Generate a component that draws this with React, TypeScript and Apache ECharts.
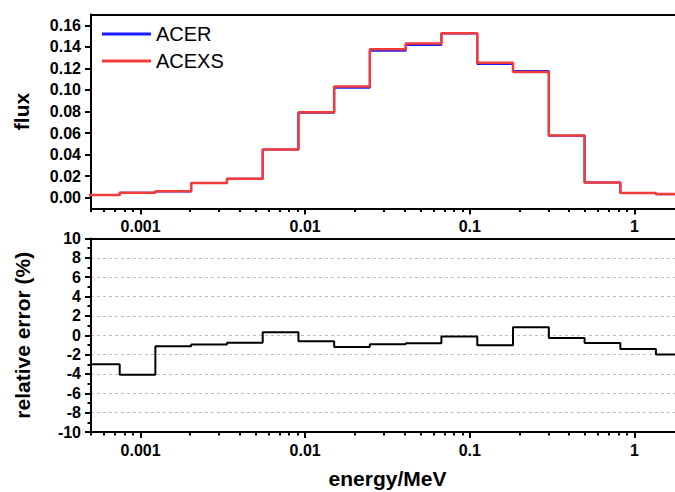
import React, { useEffect, useRef } from 'react';
import * as echarts from 'echarts';

// Group boundaries (MeV) read from the step edges
const energyBounds = [0.000453, 0.000747, 0.00123, 0.00203, 0.00335, 0.00552, 0.0091, 0.015, 0.0247, 0.0408, 0.0672, 0.111, 0.183, 0.302, 0.498, 0.821, 1.35, 2.23];
// Group fluxes
const acexsFlux = [0.0025, 0.0047, 0.0059, 0.0137, 0.0177, 0.0447, 0.0794, 0.1033, 0.1377, 0.143, 0.1526, 0.1253, 0.1166, 0.0577, 0.0142, 0.0044, 0.0034];
const acerFlux = [0.00243, 0.00451, 0.00583, 0.01357, 0.01756, 0.04484, 0.07891, 0.10205, 0.13642, 0.14181, 0.15242, 0.124, 0.11757, 0.05754, 0.01409, 0.00434, 0.00333];
// Relative error (%)
const relError = [-3.0, -4.07, -1.14, -0.96, -0.77, 0.31, -0.62, -1.21, -0.93, -0.83, -0.12, -1.04, 0.83, -0.28, -0.8, -1.42, -2.0];

const xMajorTicks = [0.001, 0.01, 0.1, 1];
const xMinorTicks = [0.0005, 0.0006, 0.0007, 0.0008, 0.0009, 0.002, 0.003, 0.004, 0.005, 0.006, 0.007, 0.008, 0.009, 0.02, 0.03, 0.04, 0.05, 0.06, 0.07, 0.08, 0.09, 0.2, 0.3, 0.4, 0.5, 0.6, 0.7, 0.8, 0.9, 2];
const fluxTicks = [0, 0.02, 0.04, 0.06, 0.08, 0.1, 0.12, 0.14, 0.16];
const fluxMinorTicks = [0.01, 0.03, 0.05, 0.07, 0.09, 0.11, 0.13, 0.15];

const FONT = '"Liberation Sans", Arial, sans-serif';

function steps(vals: number[]) {
  return energyBounds.map((e, i) => [e, vals[Math.min(i, vals.length - 1)]]);
}

export default function App() {
  const ref = useRef<HTMLDivElement>(null);
  useEffect(() => {
    const chart = echarts.init(ref.current as HTMLDivElement, null, { renderer: 'svg' });
    const X_MIN = 0.0005;
    const X_MAX = 2;
    const axisLine = { show: true, onZero: false, lineStyle: { color: '#000', width: 2 } };
    const labelStyle = { color: '#000', fontFamily: FONT, fontWeight: 'bold' as const, fontSize: 16 };
    const nameStyle = { color: '#000', fontFamily: FONT, fontWeight: 'bold' as const, fontSize: 21 };
    const tickStyle = { color: '#000', width: 2 };

    const logAxis = (gridIndex: number, extra: any) => ({
      type: 'log',
      logBase: 10,
      gridIndex,
      min: X_MIN,
      max: X_MAX,
      position: 'bottom',
      axisLine,
      splitLine: { show: false },
      minorTick: { show: false },
      minorSplitLine: { show: false },
      ...extra,
    });
    const majorX = (g: number, extra: any = {}) =>
      logAxis(g, {
        axisTick: { show: true, inside: false, length: 6, lineStyle: tickStyle, customValues: xMajorTicks },
        axisLabel: {
          show: true,
          customValues: xMajorTicks,
          formatter: (v: number) => String(+Number(v).toPrecision(3)),
          margin: 10,
          ...labelStyle,
        },
        ...extra,
      });
    const minorX = (g: number) =>
      logAxis(g, {
        axisTick: { show: true, inside: false, length: 3.5, lineStyle: tickStyle, customValues: xMinorTicks },
        axisLabel: { show: false },
      });
    const topX = (g: number) =>
      logAxis(g, {
        position: 'top',
        axisTick: { show: false },
        axisLabel: { show: false },
      });

    chart.setOption({
      animation: false,
      backgroundColor: '#fff',
      grid: [
        { left: 91, top: 14.5, width: 593, height: 194, outerBoundsMode: 'none', containLabel: false },
        { left: 91, top: 238.5, width: 593, height: 193.5, outerBoundsMode: 'none', containLabel: false },
      ],
      legend: {
        show: true,
        orient: 'vertical',
        left: 102,
        top: 24,
        padding: 0,
        itemWidth: 49,
        itemHeight: 3,
        itemGap: 7,
        icon: 'rect',
        textStyle: { fontSize: 20, fontFamily: FONT, color: '#000' },
        data: ['ACER', 'ACEXS'],
      },
      xAxis: [
        majorX(0),
        minorX(0),
        topX(0),
        majorX(1, {
          name: 'energy/MeV',
          nameLocation: 'middle',
          nameGap: 36,
          nameTextStyle: nameStyle,
        }),
        minorX(1),
        topX(1),
      ],
      yAxis: [
        {
          type: 'value',
          gridIndex: 0,
          min: -0.01,
          max: 0.17,
          axisLine,
          splitLine: { show: false },
          axisTick: { show: true, inside: false, length: 6, lineStyle: tickStyle, customValues: fluxTicks },
          axisLabel: {
            show: true,
            customValues: fluxTicks,
            formatter: (v: number) => Number(v).toFixed(2),
            margin: 10,
            ...labelStyle,
          },
          name: 'flux',
          nameLocation: 'middle',
          nameGap: 59,
          nameTextStyle: nameStyle,
        },
        {
          type: 'value',
          gridIndex: 0,
          min: -0.01,
          max: 0.17,
          axisLine,
          splitLine: { show: false },
          axisTick: { show: true, inside: false, length: 3.5, lineStyle: tickStyle, customValues: fluxMinorTicks },
          axisLabel: { show: false },
        },
        {
          type: 'value',
          gridIndex: 1,
          min: -10,
          max: 10,
          interval: 2,
          axisLine,
          axisTick: { show: true, inside: false, length: 6, lineStyle: tickStyle },
          minorTick: { show: true, splitNumber: 2, length: 3.5, lineStyle: tickStyle },
          splitLine: { show: true, lineStyle: { color: '#bdbdbd', width: 1, type: [3, 3] } },
          axisLabel: { show: true, margin: 10, ...labelStyle },
          name: 'relative error (%)',
          nameLocation: 'middle',
          nameGap: 58,
          nameTextStyle: nameStyle,
        },
      ],
      series: [
        {
          name: 'ACER',
          type: 'line',
          xAxisIndex: 0,
          yAxisIndex: 0,
          step: 'end',
          data: steps(acerFlux),
          showSymbol: false,
          symbol: 'none',
          color: '#1a1aff',
          lineStyle: { color: '#1a1aff', width: 2 },
          clip: true,
        },
        {
          name: 'ACEXS',
          type: 'line',
          xAxisIndex: 0,
          yAxisIndex: 0,
          step: 'end',
          data: steps(acexsFlux),
          showSymbol: false,
          symbol: 'none',
          color: '#f23b3b',
          lineStyle: { color: '#f23b3b', width: 2.5 },
          clip: true,
        },
        {
          name: 'relative error',
          type: 'line',
          xAxisIndex: 3,
          yAxisIndex: 2,
          step: 'end',
          data: steps(relError),
          showSymbol: false,
          symbol: 'none',
          color: '#000',
          lineStyle: { color: '#000', width: 2 },
          clip: true,
        },
      ],
    });
    return () => chart.dispose();
  }, []);
  return <div ref={ref} style={{ position: 'fixed', left: 0, top: 0, width: 675, height: 492 }} />;
}
